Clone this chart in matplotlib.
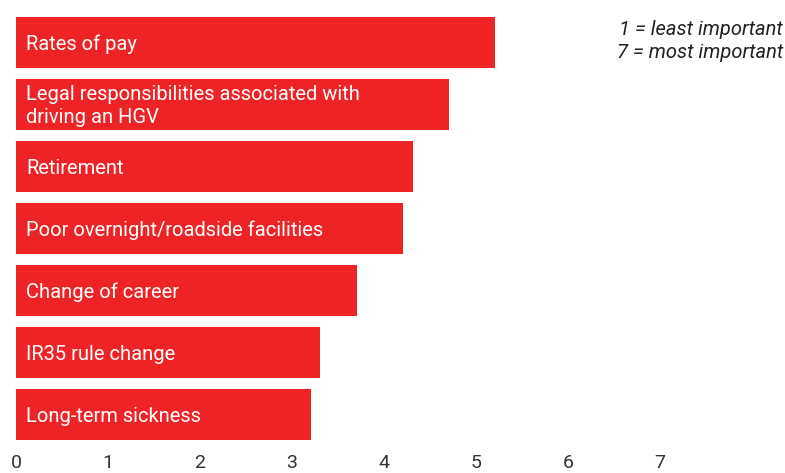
import matplotlib
matplotlib.use("Agg")
import matplotlib.pyplot as plt

# Mean importance ranking of each reason (1 = least, 7 = most)
reasons = [
    "Rates of pay",
    "Legal responsibilities associated with\ndriving an HGV",
    "Retirement",
    "Poor overnight/roadside facilities",
    "Change of career",
    "IR35 rule change",
    "Long-term sickness",
]
scores = [5.21, 4.71, 4.32, 4.21, 3.71, 3.30, 3.21]
ticks = [0, 1, 2, 3, 4, 5, 6, 7]

red = "#ee2326"
plt.rcParams["font.family"] = ["Roboto", "DejaVu Sans"]

fig = plt.figure(figsize=(7.85, 4.73), dpi=100)
ax = fig.add_axes([16 / 785, 1 - 445.3 / 473, 768 / 785, 434 / 473])

pos = list(range(len(reasons)))
ax.barh(pos, scores, height=0.82, color=red, left=0)
for i, lab in zip(pos, reasons):
    ax.text(0.11, i + 0.03, lab, va="center", ha="left", color="white",
            fontsize=14.5, linespacing=1.25)

ax.set_xlim(0, 768 / 92)
ax.set_ylim(6.5, -0.5)
ax.set_yticks([])
ax.set_xticks(ticks)
ax.set_xticklabels([str(t) for t in ticks])
ax.tick_params(axis="x", length=0, pad=6.5, labelsize=14, labelcolor="#333333")
for s in ax.spines.values():
    s.set_visible(False)

fig.text(783 / 785, 1 - 41 / 473, "1 = least important\n7 = most important",
         ha="right", va="center", style="italic", fontsize=14.5,
         color="#222222", linespacing=1.3)

fig.savefig("out.png", dpi=100)
